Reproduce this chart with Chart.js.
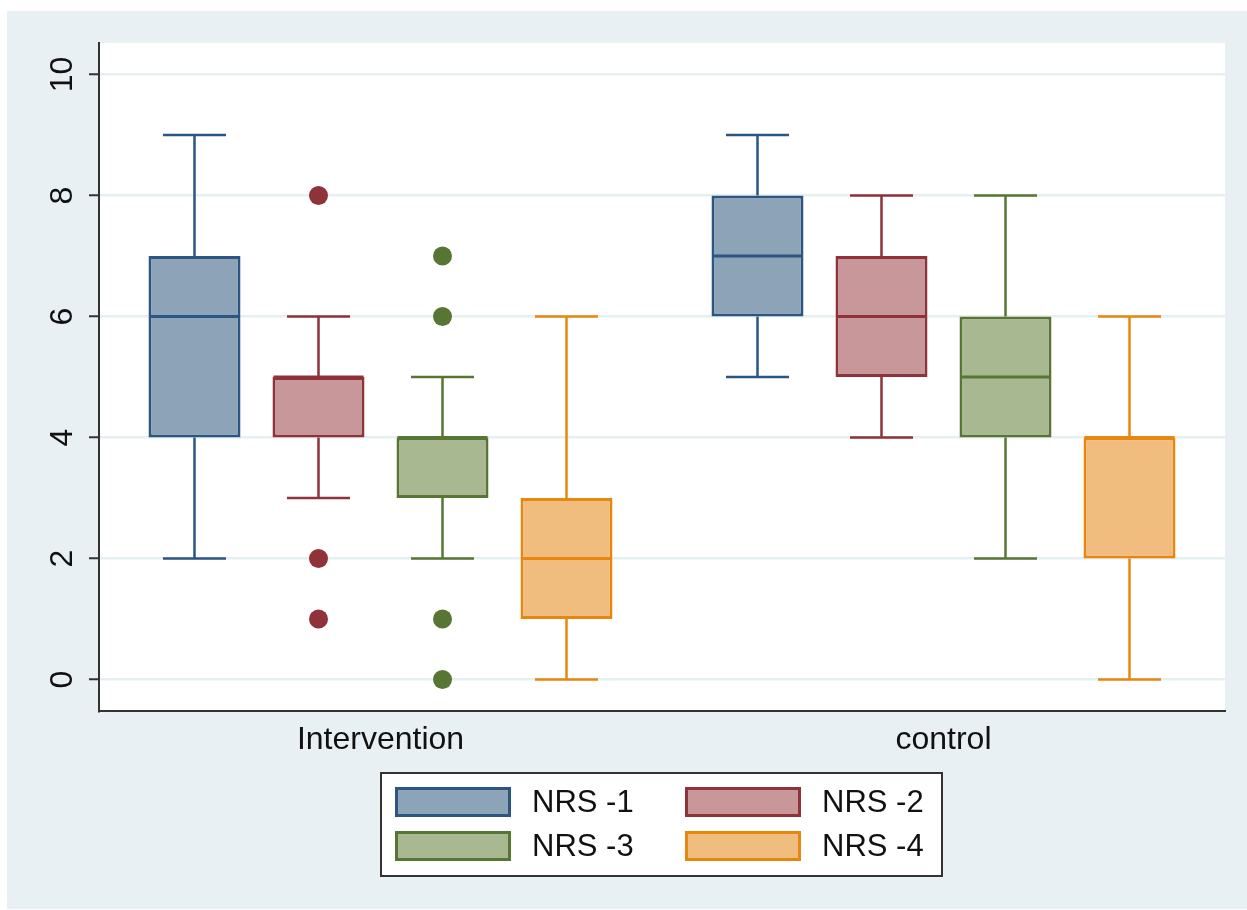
<!DOCTYPE html>
<html>
<head>
<meta charset="utf-8">
<title>NRS by group</title>
<script src="https://cdn.jsdelivr.net/npm/chart.js@4.4.1/dist/chart.umd.min.js"></script>
<style>
  html, body { margin: 0; padding: 0; background: #ffffff; }
  #wrap { width: 1247px; height: 910px; position: relative; }
</style>
</head>
<body>
<div id="wrap"><canvas id="c" width="1247" height="910"></canvas></div>
<script>
// Groups on the x axis and the four NRS series
const groups = ['Intervention', 'control'];
const seriesNames = ['NRS -1', 'NRS -2', 'NRS -3', 'NRS -4'];

// Five-number summaries, one array per series: [Intervention, control]
const lowerWhisker  = [[2, 5], [3, 4], [2, 2], [0, 0]];
const lowerQuartile = [[4, 6], [4, 5], [3, 4], [1, 2]];
const medians       = [[6, 7], [5, 6], [4, 5], [2, 4]];
const upperQuartile = [[7, 8], [5, 7], [4, 6], [3, 4]];
const upperWhisker  = [[9, 9], [6, 8], [5, 8], [6, 6]];

// Outside values per series and group
const outliers = [
  [[], []],
  [[8, 2, 1], []],
  [[7, 6, 1, 0], []],
  [[], []]
];

const yTicks = [0, 2, 4, 6, 8, 10];

const lineColors = ['#2c5682', '#8f323a', '#587633', '#e8870f'];
const fillColors = ['#8ca3b8', '#c8979a', '#a8b992', '#f0bd7e'];

const FONT = '"Liberation Sans", Arial, Helvetica, sans-serif';

const datasets = seriesNames.map((name, s) => ({
  label: name,
  data: groups.map((g, k) => [lowerQuartile[s][k], upperQuartile[s][k]]),
  backgroundColor: fillColors[s],
  borderColor: lineColors[s],
  borderWidth: 3,
  borderSkipped: false,
  categoryPercentage: 0.881,
  barPercentage: 0.742
}));

// Page background, white plot region
const panelPlugin = {
  id: 'panel',
  beforeDraw(chart) {
    const { ctx, chartArea: a } = chart;
    ctx.save();
    ctx.fillStyle = '#ffffff';
    ctx.fillRect(0, 0, chart.width, chart.height);
    ctx.fillStyle = '#e8f0f3';
    ctx.fillRect(7, 11, chart.width - 7, 898);
    ctx.fillStyle = '#ffffff';
    ctx.fillRect(a.left, a.top, a.right - a.left, a.bottom - a.top);
    ctx.restore();
  }
};

// Whiskers, caps, medians and outside values drawn on the bar positions
const boxPlugin = {
  id: 'boxParts',
  beforeDatasetsDraw(chart) {
    const { ctx } = chart;
    const y = chart.scales.y;
    ctx.save();
    ctx.lineWidth = 2.5;
    chart.data.datasets.forEach((ds, s) => {
      const meta = chart.getDatasetMeta(s);
      meta.data.forEach((el, k) => {
        const { x, width } = el.getProps(['x', 'width'], true);
        const cap = width * 0.685;
        ctx.strokeStyle = lineColors[s];
        const lo = y.getPixelForValue(lowerWhisker[s][k]);
        const q1 = y.getPixelForValue(lowerQuartile[s][k]);
        const q3 = y.getPixelForValue(upperQuartile[s][k]);
        const hi = y.getPixelForValue(upperWhisker[s][k]);
        ctx.beginPath();
        ctx.moveTo(x, q3); ctx.lineTo(x, hi);
        ctx.moveTo(x - cap / 2, hi); ctx.lineTo(x + cap / 2, hi);
        ctx.moveTo(x, q1); ctx.lineTo(x, lo);
        ctx.moveTo(x - cap / 2, lo); ctx.lineTo(x + cap / 2, lo);
        ctx.stroke();
      });
    });
    ctx.restore();
  },
  afterDatasetsDraw(chart) {
    const { ctx } = chart;
    const y = chart.scales.y;
    ctx.save();
    chart.data.datasets.forEach((ds, s) => {
      const meta = chart.getDatasetMeta(s);
      meta.data.forEach((el, k) => {
        const { x, width } = el.getProps(['x', 'width'], true);
        const m = y.getPixelForValue(medians[s][k]);
        ctx.strokeStyle = lineColors[s];
        ctx.lineWidth = 3;
        ctx.beginPath();
        ctx.moveTo(x - width / 2 + 1, m);
        ctx.lineTo(x + width / 2 - 1, m);
        ctx.stroke();
        ctx.fillStyle = lineColors[s];
        outliers[s][k].forEach(v => {
          ctx.beginPath();
          ctx.arc(x, y.getPixelForValue(v), 9.5, 0, Math.PI * 2);
          ctx.fill();
        });
      });
    });
    ctx.restore();
  }
};

// Vertical y tick labels
const yLabelPlugin = {
  id: 'yLabels',
  afterDraw(chart) {
    const { ctx } = chart;
    const y = chart.scales.y;
    ctx.save();
    ctx.fillStyle = '#111111';
    ctx.font = '32px ' + FONT;
    ctx.textAlign = 'center';
    ctx.textBaseline = 'middle';
    y.ticks.forEach(t => {
      const py = y.getPixelForValue(t.value);
      ctx.save();
      ctx.translate(63, py);
      ctx.rotate(-Math.PI / 2);
      ctx.fillText(String(t.value), 0, 0);
      ctx.restore();
    });
    ctx.restore();
  }
};

// Framed two-column legend below the plot
const legendPlugin = {
  id: 'boxLegend',
  afterDraw(chart) {
    const { ctx } = chart;
    const bx = 381, by = 773, bw = 561, bh = 103;
    ctx.save();
    ctx.fillStyle = '#ffffff';
    ctx.fillRect(bx, by, bw, bh);
    ctx.strokeStyle = '#333333';
    ctx.lineWidth = 2;
    ctx.strokeRect(bx, by, bw, bh);
    const cols = [395, 685];
    const rows = [802, 846];
    ctx.font = '31px ' + FONT;
    ctx.textBaseline = 'middle';
    ctx.textAlign = 'left';
    chart.data.datasets.forEach((ds, s) => {
      const cx = cols[s % 2];
      const cy = rows[Math.floor(s / 2)];
      ctx.fillStyle = fillColors[s];
      ctx.fillRect(cx, cy - 15, 116, 30);
      ctx.strokeStyle = lineColors[s];
      ctx.lineWidth = 3;
      ctx.strokeRect(cx + 1.5, cy - 13.5, 113, 27);
      ctx.fillStyle = '#111111';
      ctx.fillText(ds.label, cx + 137, cy + 1);
    });
    ctx.restore();
  }
};

new Chart(document.getElementById('c'), {
  type: 'bar',
  data: { labels: groups, datasets },
  plugins: [panelPlugin, boxPlugin, yLabelPlugin, legendPlugin],
  options: {
    responsive: false,
    animation: false,
    events: [],
    layout: { padding: { left: 0, right: 22, top: 43, bottom: 139 } },
    plugins: { legend: { display: false }, tooltip: { enabled: false } },
    scales: {
      x: {
        grid: { display: false, drawTicks: false },
        border: { display: true, color: '#333333', width: 2 },
        ticks: { color: '#111111', font: { family: FONT, size: 32 }, padding: 10 },
        afterFit(scale) { scale.height = 60; }
      },
      y: {
        min: -0.52,
        max: 10.52,
        afterBuildTicks(scale) { scale.ticks = yTicks.map(v => ({ value: v })); },
        grid: { color: '#e6eff2', lineWidth: 2.5, drawTicks: true, tickLength: 10, tickColor: '#333333', tickWidth: 2 },
        border: { display: true, color: '#333333', width: 2 },
        ticks: { display: false },
        afterFit(scale) { scale.width = 99; }
      }
    }
  }
});
</script>
</body>
</html>
